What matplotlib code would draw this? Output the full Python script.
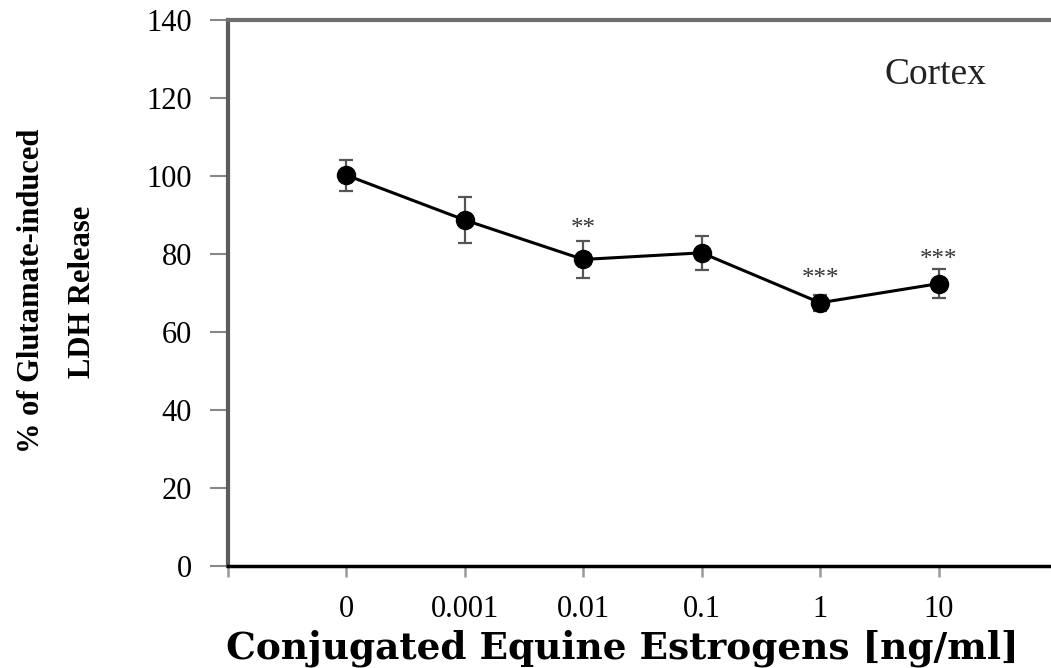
import matplotlib
matplotlib.use("Agg")
import matplotlib.pyplot as plt

# concentrations (categorical positions) and measured values
conc_labels = ['0', '0.001', '0.01', '0.1', '1', '10']
ldh_release = [100.2, 88.7, 78.6, 80.3, 67.5, 72.4]
ldh_err = [4.0, 6.0, 4.7, 4.3, 2.0, 3.7]
stars = ['', '', '**', '', '***', '***']
star_y = [0, 0, 86.5, 0, 73.5, 78.5]

plt.rcParams['font.family'] = ['Liberation Serif', 'DejaVu Serif']

fig = plt.figure(figsize=(10.51, 6.68), dpi=100)
ax = fig.add_axes([228 / 1051, 1 - 566 / 668, 1 - 228 / 1051, 546 / 668])

xs = list(range(len(conc_labels)))
ax.errorbar(xs, ldh_release, yerr=ldh_err, fmt='none', ecolor='#555555',
            elinewidth=1.6, capsize=5, capthick=1.6, zorder=2)
ax.plot(xs, ldh_release, color='black', lw=2.2, marker='o', ms=13,
        markerfacecolor='black', markeredgecolor='black', zorder=3)

for x, s, y in zip(xs, stars, star_y):
    if s:
        ax.text(x, y, s, ha='center', va='center', fontsize=18, color='#333333')

ax.text(4.97, 126, 'Cortex', ha='center', va='center', fontsize=27, color='#222222')

ax.set_xlim(-1, 5.95)
ax.set_ylim(0, 140)
ax.set_yticks(range(0, 141, 20))
ax.set_xticks([-1] + xs)
ax.set_xticklabels([''] + conc_labels)

ax.tick_params(axis='y', direction='out', length=13, width=1.5, color='#888888',
               labelsize=22, pad=13)
ax.tick_params(axis='x', direction='out', length=8, width=1.8, color='#999999',
               labelsize=22, pad=13)

ax.spines['right'].set_visible(False)
ax.spines['left'].set_color('#5c5c5c')
ax.spines['left'].set_linewidth(3)
ax.spines['top'].set_color('#6e6e6e')
ax.spines['top'].set_linewidth(3)
ax.spines['bottom'].set_color('black')
ax.spines['bottom'].set_linewidth(2.5)

fig.text(622 / 1051, 1 - 648 / 668, 'Conjugated Equine Estrogens [ng/ml]',
         ha='center', va='center', fontsize=27, fontweight='bold',
         family=['DejaVu Serif'])

fig.text(32 / 1051, 1 - 291 / 668, '% of Glutamate-induced', rotation=90,
         ha='center', va='center', fontsize=22, fontweight='bold')
fig.text(83 / 1051, 1 - 292 / 668, 'LDH Release', rotation=90,
         ha='center', va='center', fontsize=22, fontweight='bold')

fig.savefig('out.png', dpi=100)
